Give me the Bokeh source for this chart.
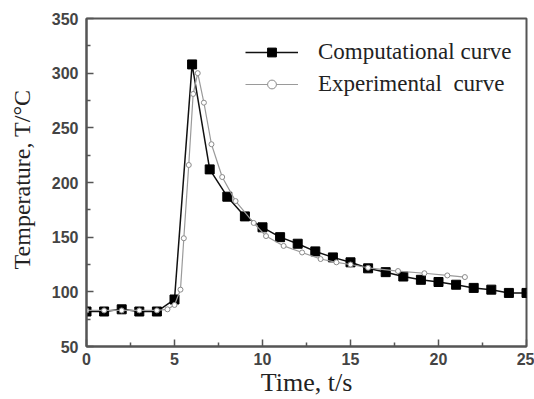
from bokeh.plotting import figure
from bokeh.models import Range1d, Legend, LegendItem, FixedTicker
from bokeh.embed import file_html
from bokeh.resources import INLINE

# Computational curve (squares)
t_comp = [0, 1, 2, 3, 4, 5, 6, 7, 8, 9, 10, 11, 12, 13, 14, 15, 16, 17, 18, 19, 20, 21, 22, 23, 24, 25]
T_comp = [82, 82, 84, 82, 82, 93, 308, 212, 187, 169, 159, 150, 144, 137, 131.5, 127, 121.5, 118, 114,
          111, 109, 106.5, 103.6, 102, 99, 99]

# Experimental curve (open circles)
t_exp = [0, 1, 2, 3, 4, 4.6, 5.0, 5.34, 5.53, 5.81, 6.06, 6.32, 6.67, 7.1, 7.71, 8.47, 9.5, 10.2,
         11.2, 12.25, 13.3, 14.2, 15.0, 16.0, 17.7, 19.2, 20.5, 21.5]
T_exp = [83, 83, 83, 83, 83, 84, 88, 102, 149, 216, 281, 300, 273, 235, 205, 183, 163, 151,
         142, 136, 130, 127, 125, 122, 119, 117, 115, 113.5]

x_ticks = [0, 5, 10, 15, 20, 25]
y_ticks = [50, 100, 150, 200, 250, 300, 350]

p = figure(width=534, height=399, output_backend="svg", toolbar_location=None,
           x_range=Range1d(0, 25), y_range=Range1d(50, 350),
           min_border_left=86, min_border_right=8, min_border_top=18, min_border_bottom=51)
p.background_fill_color = "white"
p.border_fill_color = "white"
p.outline_line_color = "#555555"
p.outline_line_width = 2
p.grid.visible = False

l1 = p.line(t_comp, T_comp, line_color="#111111", line_width=1.5)
s1 = p.scatter(t_comp, T_comp, marker="square", size=9, fill_color="#000000", line_color="#000000")
l2 = p.line(t_exp, T_exp, line_color="#9a9a9a", line_width=1.2)
s2 = p.scatter(t_exp, T_exp, marker="circle", size=5, fill_color="white", line_color="#8a8a8a", line_width=1)

for ax, ticks in ((p.xaxis[0], x_ticks), (p.yaxis[0], y_ticks)):
    ax.ticker = FixedTicker(ticks=ticks, minor_ticks=[t + (ticks[1] - ticks[0]) / 2 for t in ticks[:-1]])
    ax.axis_line_color = "#555555"
    ax.axis_line_width = 2
    ax.major_tick_line_color = "#555555"
    ax.major_tick_line_width = 1.5
    ax.minor_tick_line_color = "#555555"
    ax.minor_tick_line_width = 1.5
    ax.major_tick_in = 7
    ax.major_tick_out = 0
    ax.minor_tick_in = 4
    ax.minor_tick_out = 0
    ax.major_label_text_font = "Liberation Sans"
    ax.major_label_text_font_size = "16px"
    ax.major_label_text_font_style = "bold"
    ax.major_label_text_color = "#444444"
    ax.axis_label_text_font = "Liberation Serif"
    ax.axis_label_text_font_style = "normal"
    ax.axis_label_text_color = "#222222"

p.xaxis.axis_label = "Time, t/s"
p.yaxis.axis_label = "\u00a0Temperature, T/°C"
p.xaxis.axis_label_text_font_size = "26px"
p.yaxis.axis_label_text_font_size = "24px"
p.xaxis.major_label_standoff = 6
p.xaxis.axis_label_standoff = 0
p.yaxis.major_label_standoff = 8
p.yaxis.axis_label_standoff = 14

# small markers for the legend only (placed outside the visible range)
leg1 = p.scatter([-100], [0], marker="square", size=7, fill_color="black", line_color="black")
leg2 = p.scatter([-100], [0], marker="circle", size=5, fill_color="white", line_color="#8a8a8a")

legend = Legend(items=[LegendItem(label="Computational curve", renderers=[l1, leg1]),
                       LegendItem(label="Experimental  curve", renderers=[l2, leg2])],
                location=(159, 249))
legend.border_line_color = None
legend.background_fill_alpha = 0
legend.label_text_font = "Liberation Serif"
legend.label_text_font_size = "23px"
legend.label_text_color = "#222222"
legend.glyph_width = 53
legend.glyph_height = 22
legend.label_height = 22
legend.spacing = 6
legend.label_standoff = 20
legend.padding = 0
legend.margin = 0
p.add_layout(legend)

open("out.html", "w").write(file_html(p, INLINE))
